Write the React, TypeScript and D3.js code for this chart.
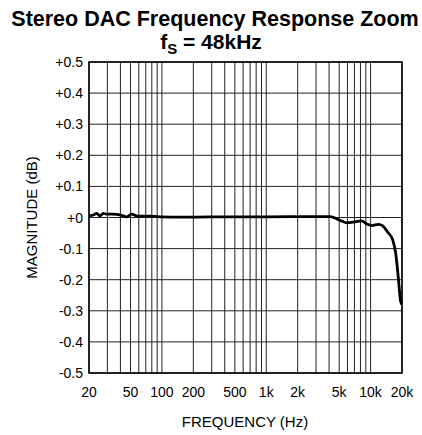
import React from "react";
import * as d3 from "d3";

const freqs = [20, 22, 23.7, 25.5, 27.4, 29.6, 33, 36.9, 40, 46, 51.3, 57.3, 65, 80, 100, 150, 300, 1000, 3000, 4100, 5000, 5900, 6800, 8200, 9200, 10300, 11900, 13100, 14500, 16300, 17400, 18400, 19400, 20000];
const mags = [0.005, 0.008, 0.013, 0.005, 0.013, 0.011, 0.011, 0.010, 0.008, 0.002, 0.011, 0.005, 0.004, 0.004, 0.002, 0.001, 0.002, 0.002, 0.003, 0.003, -0.008, -0.017, -0.015, -0.011, -0.021, -0.026, -0.022, -0.027, -0.046, -0.072, -0.115, -0.19, -0.27, -0.28];

const xTickValues = [20, 50, 100, 200, 500, 1000, 2000, 5000, 10000, 20000];
const xTickLabels = ["20", "50", "100", "200", "500", "1k", "2k", "5k", "10k", "20k"];
const yTickValues = [0.5, 0.4, 0.3, 0.2, 0.1, 0, -0.1, -0.2, -0.3, -0.4, -0.5];
const yTickLabels = ["+0.5", "+0.4", "+0.3", "+0.2", "+0.1", "+0", "-0.1", "-0.2", "-0.3", "-0.4", "-0.5"];
const gridFreqs = [
  20, 30, 40, 50, 60, 70, 80, 90, 100,
  200, 300, 400, 500, 600, 700, 800, 900, 1000,
  2000, 3000, 4000, 5000, 6000, 7000, 8000, 9000, 10000, 20000,
];

const W = 422, H = 435;
const L = 89, R = 402, T = 62, B = 373;
const FONT = "'Liberation Sans', Arial, Helvetica, sans-serif";

export default function App() {
  const x = d3.scaleLog().domain([20, 20000]).range([L, R]);
  const y = d3.scaleLinear().domain([-0.5, 0.5]).range([B, T]);
  const data = freqs.map((f, i) => [f, mags[i]] as [number, number]);
  const line = d3.line<[number, number]>()
    .x(d => x(d[0]))
    .y(d => y(d[1]))
    .curve(d3.curveMonotoneX);

  return (
    <svg width={W} height={H} style={{ position: "absolute", left: 0, top: 0, background: "#fff" }} fontFamily={FONT}>
      <rect x={0} y={0} width={W} height={H} fill="#fff" />
      <text x={215} y={26} textAnchor="middle" fontSize={21.5} fontWeight="bold">Stereo DAC Frequency Response Zoom</text>
      <text x={211} y={49} textAnchor="middle" fontSize={21} fontWeight="bold">
        f<tspan fontSize={15} dy={5}>S</tspan><tspan dy={-5}> = 48kHz</tspan>
      </text>
      <g stroke="#222" strokeWidth={1}>
        {gridFreqs.map(f => (
          <line key={"v" + f} x1={x(f)} x2={x(f)} y1={T} y2={B} />
        ))}
        {yTickValues.map(v => (
          <line key={"h" + v} x1={L} x2={R} y1={y(v)} y2={y(v)} />
        ))}
      </g>
      <rect x={L} y={T} width={R - L} height={B - T} fill="none" stroke="#000" strokeWidth={1.5} />
      <path d={line(data) || ""} fill="none" stroke="#000" strokeWidth={2.8} strokeLinejoin="round" />
      <g fontSize={14} fill="#000">
        {yTickValues.map((v, i) => (
          <text key={"yl" + v} x={L - 6} y={y(v)} dy="0.36em" textAnchor="end">{yTickLabels[i]}</text>
        ))}
        {xTickValues.map((v, i) => (
          <text key={"xl" + v} x={x(v)} y={397} textAnchor="middle">{xTickLabels[i]}</text>
        ))}
      </g>
      <text x={245} y={427} textAnchor="middle" fontSize={15}>FREQUENCY (Hz)</text>
      <text transform={`translate(37,${(T + B) / 2}) rotate(-90)`} textAnchor="middle" fontSize={15}>MAGNITUDE (dB)</text>
    </svg>
  );
}
